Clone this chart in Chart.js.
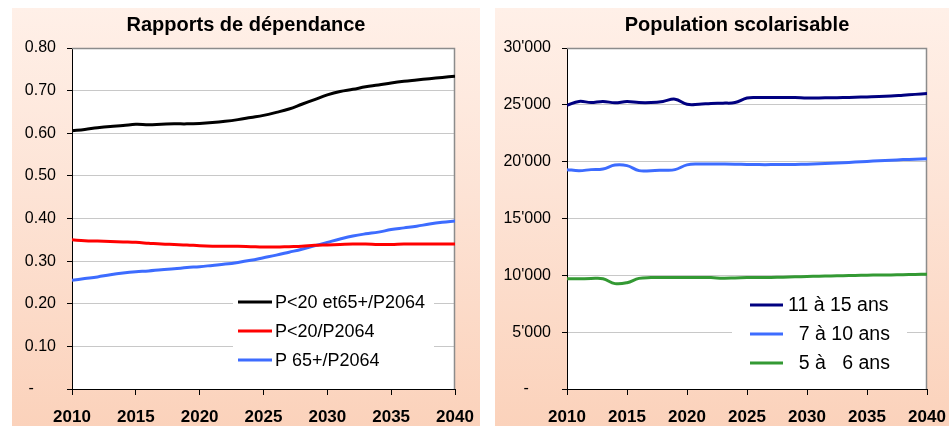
<!DOCTYPE html>
<html>
<head>
<meta charset="utf-8">
<script src="https://cdn.jsdelivr.net/npm/chart.js@4.4.1/dist/chart.umd.min.js"></script>
<style>
  body { margin: 0; width: 949px; height: 426px; background: #fff; position: relative; overflow: hidden; }
  .panel { position: absolute; top: 8px; height: 418px; background: linear-gradient(to bottom, #fff0e8 0%, #fde3d5 45%, #fbd2bb 100%); }
  #p1 { left: 12px; width: 468px; }
  /* le second cadre depasse a droite de la fenetre, comme dans l'original */
  #p2 { left: 495px; width: 484px; }
  canvas { display: block; }
</style>
</head>
<body>
<div class="panel" id="p1"><canvas id="c1" width="468" height="418"></canvas></div>
<div class="panel" id="p2"><canvas id="c2" width="484" height="418"></canvas></div>
<script>
// Annees communes aux deux graphiques
const years = [
  2010, 2011, 2012, 2013, 2014, 2015, 2016, 2017, 2018, 2019,
  2020, 2021, 2022, 2023, 2024, 2025, 2026, 2027, 2028, 2029,
  2030, 2031, 2032, 2033, 2034, 2035, 2036, 2037, 2038, 2039, 2040
];

// Rapports de dependance
const depLabels = ["P<20 et65+/P2064", "P<20/P2064", "P 65+/P2064"];
const depTotal = [
  0.606, 0.609, 0.613, 0.616, 0.618, 0.621, 0.620, 0.621, 0.622, 0.622,
  0.623, 0.625, 0.628, 0.632, 0.637, 0.642, 0.649, 0.657, 0.668, 0.679,
  0.690, 0.698, 0.703, 0.709, 0.713, 0.718, 0.722, 0.725, 0.728, 0.731, 0.734
];
const depYoung = [
  0.350, 0.348, 0.347, 0.346, 0.345, 0.344, 0.342, 0.340, 0.339, 0.338,
  0.336, 0.335, 0.335, 0.335, 0.334, 0.333, 0.333, 0.334, 0.335, 0.337,
  0.338, 0.339, 0.340, 0.340, 0.339, 0.339, 0.340, 0.340, 0.340, 0.340, 0.340
];
const depOld = [
  0.255, 0.259, 0.263, 0.268, 0.272, 0.275, 0.277, 0.280, 0.282, 0.285,
  0.287, 0.290, 0.293, 0.297, 0.302, 0.308, 0.314, 0.321, 0.328, 0.336,
  0.344, 0.352, 0.359, 0.364, 0.368, 0.374, 0.378, 0.382, 0.387, 0.391, 0.394
];
const depTicks = [0, 0.1, 0.2, 0.3, 0.4, 0.5, 0.6, 0.7, 0.8];

// Population scolarisable
const scoLabels = ["11 à 15 ans", "  7 à 10 ans", "  5 à   6 ans"];
const sco11to15 = [
  24950, 25300, 25200, 25300, 25180, 25290, 25200, 25200, 25300, 25500,
  25050, 25050, 25120, 25150, 25200, 25600, 25640, 25640, 25640, 25640,
  25600, 25610, 25620, 25640, 25670, 25700, 25730, 25780, 25850, 25920, 25990
];
const sco7to10 = [
  19300, 19210, 19300, 19360, 19700, 19650, 19210, 19210, 19250, 19300,
  19720, 19790, 19790, 19790, 19780, 19750, 19740, 19740, 19750, 19760,
  19780, 19810, 19850, 19900, 19960, 20020, 20080, 20130, 20180, 20220, 20260
];
const sco5to6 = [
  9700, 9700, 9720, 9700, 9270, 9350, 9730, 9800, 9800, 9800,
  9800, 9800, 9800, 9750, 9770, 9800, 9810, 9820, 9840, 9870,
  9900, 9920, 9950, 9970, 9990, 10010, 10030, 10040, 10060, 10080, 10090
];
const scoTicks = [0, 5000, 10000, 15000, 20000, 25000, 30000];

const FONT = "Arial, 'Liberation Sans', sans-serif";

const toPoints = (values) => years.map((yr, i) => ({ x: yr, y: values[i] }));

const lineSet = (label, values, color) => ({
  label,
  data: toPoints(values),
  borderColor: color,
  backgroundColor: color,
  borderWidth: 3,
  pointRadius: 0,
  tension: 0.4,
  fill: false
});

// Fond blanc de la zone de trace + cadre gris haut/droite
const plotFrame = {
  id: "plotFrame",
  beforeDraw(chart) {
    const { ctx, chartArea: a } = chart;
    ctx.save();
    ctx.fillStyle = "#fff";
    ctx.fillRect(a.left, a.top, a.right - a.left, a.bottom - a.top);
    ctx.restore();
  },
  beforeDatasetsDraw(chart) {
    const { ctx, chartArea: a } = chart;
    ctx.save();
    ctx.strokeStyle = "#8c8c8c";
    ctx.lineWidth = 1.5;
    ctx.beginPath();
    ctx.moveTo(a.left, a.top + 0.5);
    ctx.lineTo(a.right - 0.5, a.top + 0.5);
    ctx.lineTo(a.right - 0.5, a.bottom);
    ctx.stroke();
    ctx.restore();
  }
};

// Legende dans la zone de trace, sur fond blanc
const boxLegend = {
  id: "boxLegend",
  afterDatasetsDraw(chart, args, o) {
    const { ctx } = chart;
    ctx.save();
    ctx.fillStyle = "#fff";
    ctx.fillRect(o.x, o.y, o.w, o.h);
    ctx.font = o.size + "px " + FONT;
    ctx.textBaseline = "middle";
    chart.data.datasets.forEach((ds, i) => {
      const cy = o.rows[i];
      ctx.strokeStyle = ds.borderColor;
      ctx.lineWidth = 3;
      ctx.beginPath();
      ctx.moveTo(o.sx0, cy);
      ctx.lineTo(o.sx1, cy);
      ctx.stroke();
      ctx.fillStyle = "#000";
      ctx.fillText(ds.label, o.tx, cy + 1);
    });
    ctx.restore();
  }
};

const makeOptions = (title, ticks, fmt, yWidth, rightGap, legend) => ({
  responsive: false,
  animation: false,
  layout: { padding: 0 },
  scales: {
    x: {
      type: "linear",
      min: 2010,
      max: 2040,
      afterFit: (s) => {
        s.height = 37;
        s.paddingLeft = 0;
        s.paddingRight = rightGap;
      },
      ticks: {
        stepSize: 5,
        color: "#000",
        padding: 12,
        font: { family: FONT, size: 17, weight: "bold" },
        callback: (v) => String(v)
      },
      grid: { drawOnChartArea: false, drawTicks: true, tickLength: 6, tickColor: "#000" },
      border: { color: "#000", width: 1 }
    },
    y: {
      min: ticks[0],
      max: ticks[ticks.length - 1],
      afterFit: (s) => { s.width = yWidth; },
      afterBuildTicks: (s) => { s.ticks = ticks.map((v) => ({ value: v })); },
      ticks: {
        color: "#000",
        padding: 11,
        font: { family: FONT, size: 16 },
        callback: fmt
      },
      grid: { color: "#c8c8c8", lineWidth: 1, tickLength: 5, tickColor: "#000" },
      border: { color: "#000", width: 1 }
    }
  },
  plugins: {
    legend: { display: false },
    tooltip: { enabled: false },
    title: {
      display: true,
      text: title,
      color: "#000",
      font: { family: FONT, size: 20, weight: "bold" },
      padding: { top: 5, bottom: 11 }
    },
    boxLegend: legend
  }
});

new Chart(document.getElementById("c1"), {
  type: "line",
  data: {
    datasets: [
      lineSet(depLabels[0], depTotal, "#000000"),
      lineSet(depLabels[1], depYoung, "#ff0000"),
      lineSet(depLabels[2], depOld, "#3d6cff")
    ]
  },
  options: makeOptions(
    "Rapports de dépendance",
    depTicks,
    (v) => (v === 0 ? "-     " : v.toFixed(2)),
    60,
    25,
    { x: 221, y: 277, w: 201, h: 90, rows: [294, 323, 352], sx0: 226, sx1: 260, tx: 263, size: 18 }
  ),
  plugins: [plotFrame, boxLegend]
});

new Chart(document.getElementById("c2"), {
  type: "line",
  data: {
    datasets: [
      lineSet(scoLabels[0], sco11to15, "#000080"),
      lineSet(scoLabels[1], sco7to10, "#3d6cff"),
      lineSet(scoLabels[2], sco5to6, "#339933")
    ]
  },
  options: makeOptions(
    "Population scolarisable",
    scoTicks,
    (v) => (v === 0 ? "-     " : String(v).replace(/\B(?=(\d{3})+(?!\d))/g, "'")),
    72,
    52,
    { x: 237, y: 279, w: 175, h: 91, rows: [297, 326, 355], sx0: 255, sx1: 288, tx: 293, size: 19.5 }
  ),
  plugins: [plotFrame, boxLegend]
});
</script>
</body>
</html>
